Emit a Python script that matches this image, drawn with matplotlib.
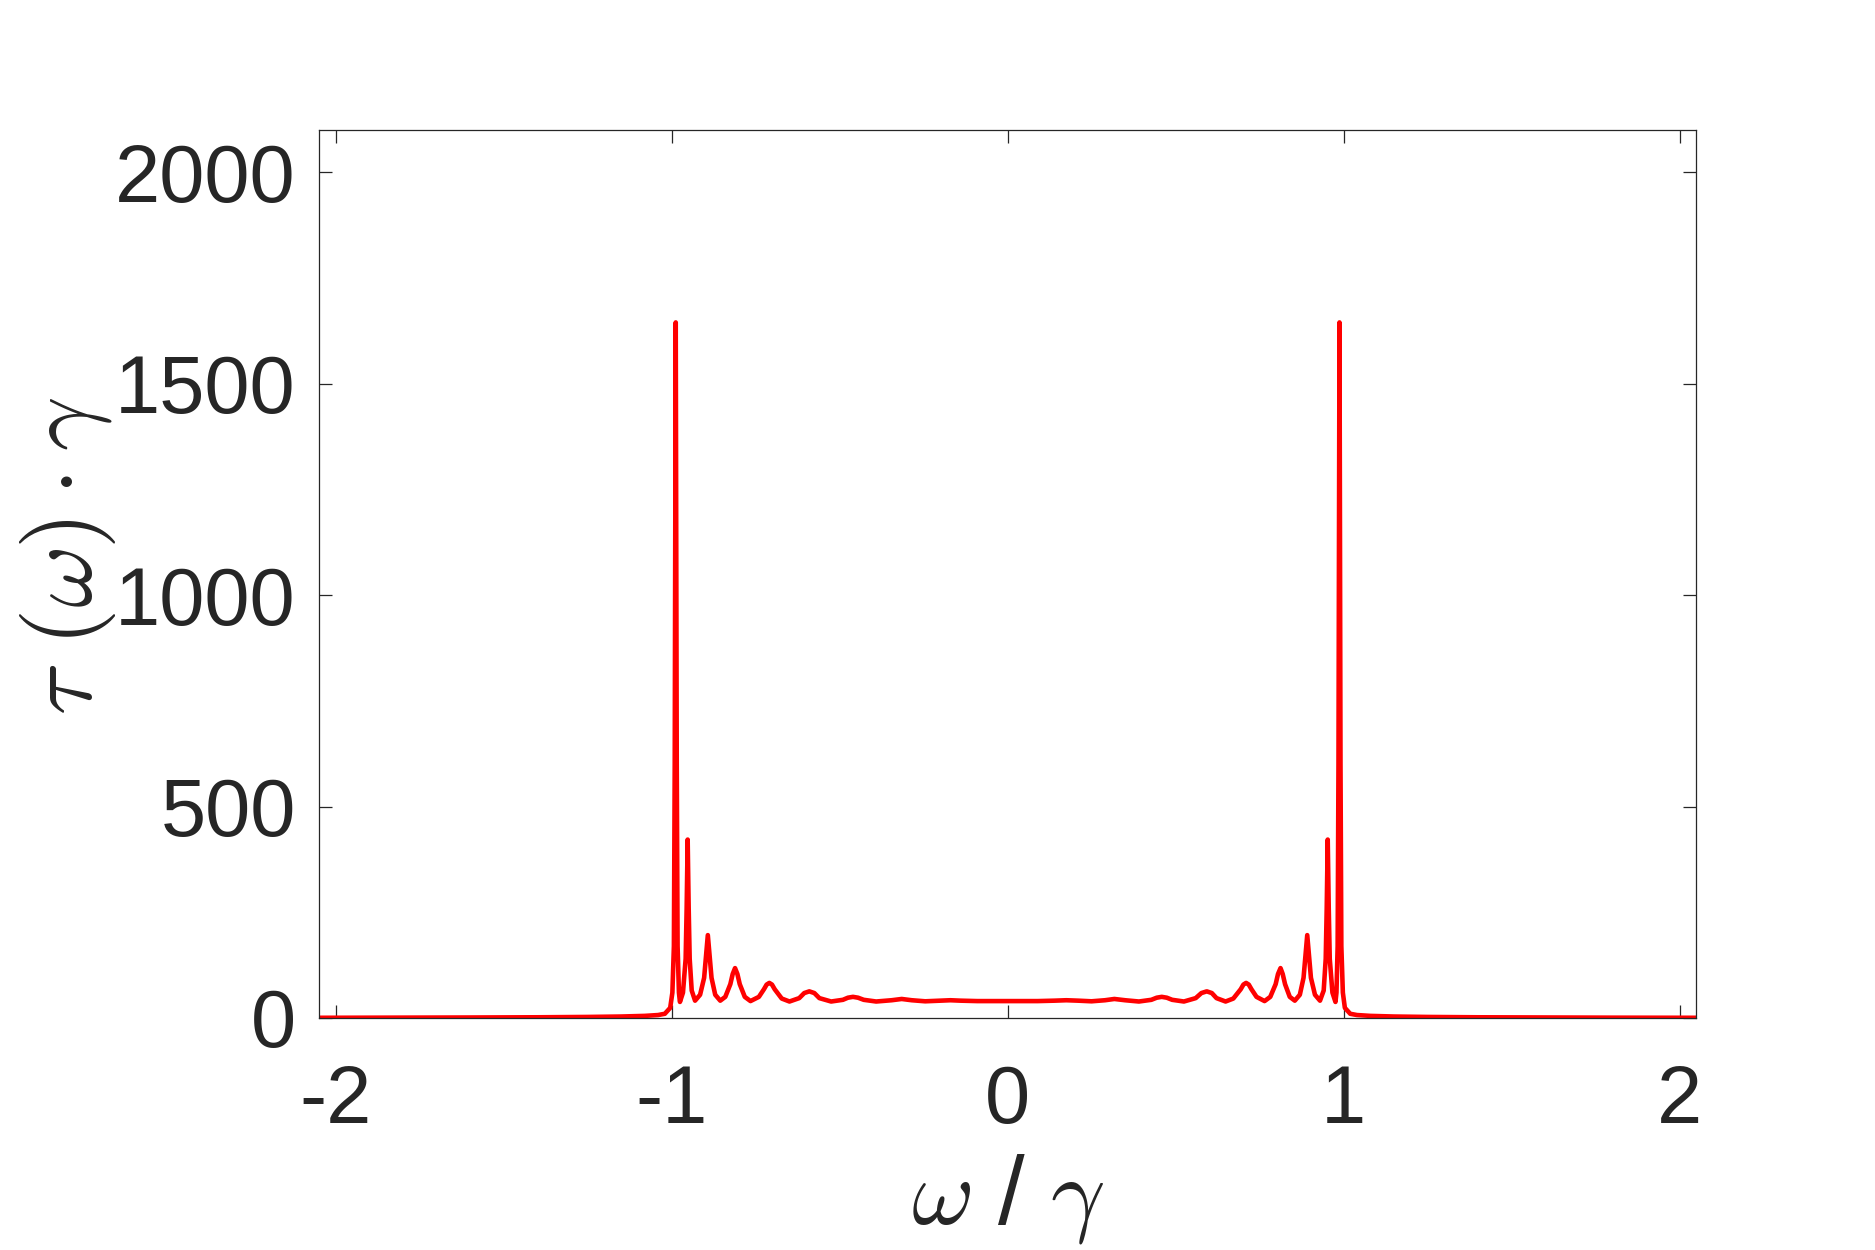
import matplotlib
matplotlib.use("Agg")
import matplotlib.pyplot as plt
import numpy as np

plt.rcParams["font.family"] = ["Liberation Sans", "DejaVu Sans"]
plt.rcParams["mathtext.fontset"] = "cm"
plt.rcParams["axes.unicode_minus"] = False

# omega / gamma (left half, then right half)
omega_left = [
    -2.05, -1.8, -1.6, -1.4, -1.25, -1.15, -1.08, -1.04, -1.02, -1.004,
    -0.9975, -0.993, -0.9905, -0.9875, -0.9845, -0.982, -0.978, -0.975,
    -0.966, -0.958, -0.955, -0.952, -0.949, -0.946, -0.940, -0.930,
    -0.915, -0.903, -0.898, -0.892, -0.886, -0.881, -0.870, -0.855,
    -0.840, -0.825, -0.818, -0.811, -0.804, -0.797, -0.782, -0.765,
    -0.740, -0.725, -0.717, -0.709, -0.701, -0.693, -0.672, -0.649,
    -0.620, -0.605, -0.590, -0.575, -0.560, -0.525,
    -0.490, -0.475, -0.460, -0.445, -0.428, -0.391,
    -0.345, -0.315, -0.285, -0.245, -0.200, -0.170, -0.140, -0.090, 0.0,
]
tau_left = [
    0.5, 0.8, 1.2, 1.7, 2.5, 3.5, 5.0, 7.0, 10.0, 24.0,
    60.0, 170.0, 600.0, 1645.0, 600.0, 170.0, 60.0, 38.0,
    60.0, 140.0, 260.0, 422.0, 260.0, 140.0, 65.0, 41.0,
    55.0, 95.0, 140.0, 196.0, 140.0, 95.0, 55.0, 41.0,
    50.0, 80.0, 104.0, 118.0, 104.0, 80.0, 50.0, 40.0,
    50.0, 68.0, 79.0, 83.0, 79.0, 68.0, 46.0, 39.0,
    47.0, 59.0, 63.0, 59.0, 47.0, 39.0,
    43.0, 48.0, 50.0, 48.0, 43.0, 39.0,
    42.0, 45.0, 42.0, 39.5, 41.0, 42.0, 41.0, 40.0, 40.0,
]
omega_right = [
    0.090, 0.140, 0.175, 0.210, 0.250,
    0.290, 0.318, 0.350, 0.391,
    0.428, 0.444, 0.459, 0.474, 0.490, 0.525,
    0.560, 0.577, 0.593, 0.608, 0.622, 0.649,
    0.672, 0.694, 0.702, 0.710, 0.718, 0.726, 0.741, 0.765,
    0.782, 0.798, 0.805, 0.8125, 0.819, 0.826, 0.840, 0.855,
    0.870, 0.881, 0.886, 0.892, 0.898, 0.903, 0.915, 0.930,
    0.941, 0.947, 0.950, 0.953, 0.956, 0.959, 0.967, 0.976,
    0.979, 0.9825, 0.985, 0.988, 0.991, 0.9935, 0.998, 1.004,
    1.02, 1.04, 1.08, 1.15, 1.25, 1.4, 1.6, 1.8, 2.05,
]
tau_right = [
    40.0, 41.0, 42.0, 41.0, 39.5,
    42.0, 45.0, 42.0, 39.0,
    43.0, 48.0, 50.0, 48.0, 43.0, 39.0,
    47.0, 59.0, 63.0, 59.0, 47.0, 39.0,
    46.0, 68.0, 79.0, 83.0, 79.0, 68.0, 50.0, 40.0,
    50.0, 80.0, 104.0, 118.0, 104.0, 80.0, 50.0, 41.0,
    55.0, 95.0, 140.0, 196.0, 140.0, 95.0, 55.0, 41.0,
    65.0, 140.0, 260.0, 422.0, 260.0, 140.0, 60.0, 38.0,
    60.0, 170.0, 600.0, 1645.0, 600.0, 170.0, 60.0, 24.0,
    10.0, 7.0, 5.0, 3.5, 2.5, 1.7, 1.2, 0.8, 0.5,
]

omega = np.array(omega_left + omega_right)
tau = np.array(tau_left + tau_right)

x_ticks = [-2, -1, 0, 1, 2]
y_ticks = [0, 500, 1000, 1500, 2000]

fig = plt.figure(figsize=(12.5, 1250 / 150), dpi=150)
ax = fig.add_axes([0.170, 0.1856, 0.7347, 0.7104])

ax.plot(omega, tau, color="#ff0000", linewidth=2.2)

ax.set_xlim(-2.05, 2.05)
ax.set_ylim(0, 2100)
ax.set_xticks(x_ticks)
ax.set_yticks(y_ticks)

ax.tick_params(direction="in", top=True, right=True, length=6.2, width=0.6,
               labelsize=39, labelcolor="#262626", color="#262626")
ax.tick_params(axis="x", pad=22)
ax.tick_params(axis="y", pad=11)
for s in ax.spines.values():
    s.set_linewidth(0.6)
    s.set_color("#262626")

ax.set_xlabel(r"$\omega$ / $\gamma$", fontsize=46, color="#262626")
ax.xaxis.set_label_coords(0.5, -0.204)
ax.xaxis.label.set_verticalalignment("center")

ax.set_ylabel(r"$\tau\ (\omega)\cdot\gamma$", fontsize=46, color="#262626")
ax.yaxis.set_label_coords(-0.182, 0.52)
ax.yaxis.label.set_verticalalignment("center")

fig.savefig("out.png", dpi=150)
plt.close(fig)
